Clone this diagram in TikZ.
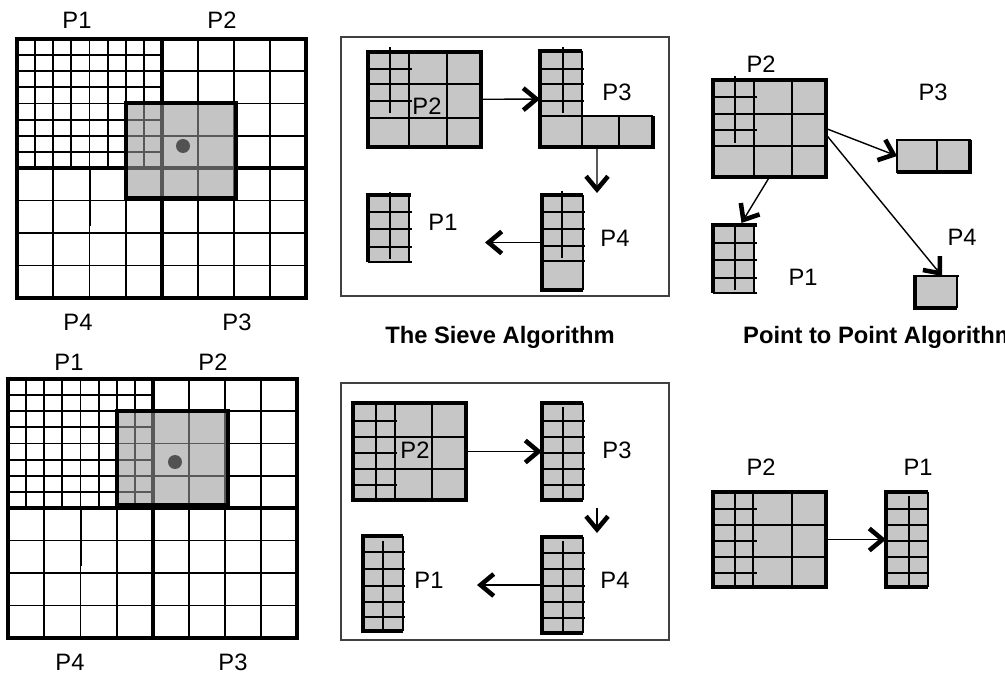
\documentclass[tikz,border=0pt]{standalone}
\usepackage{fontspec}
\setmainfont{Liberation Sans}
\usetikzlibrary{arrows.meta,fit,calc}
\tikzstyle{gridL}=[line width=1.05pt]
\tikzstyle{thickL}=[line width=2.5pt]
\tikzstyle{frameL}=[line width=0.8pt, black!75]
\tikzstyle{blk}=[rectangle, fill=gray!45, inner sep=0pt, outer sep=0pt]
\tikzstyle{ghost}=[fill=gray!80, fill opacity=0.58]
\tikzstyle{lbl}=[font=\fontsize{13.5}{15}\selectfont]
\tikzstyle{algoTitle}=[font=\bfseries\fontsize{13.5}{16}\selectfont]
\tikzstyle{flow}=[line width=0.8pt, -{Straight Barb[length=7.5pt, width=12.5pt, line width=2.6pt]}]

\begin{document}
\begin{tikzpicture}[x=0.02cm, y=-0.02cm]
  \useasboundingbox (0,0) rectangle (1005,675);
  %%%%%%%%%%%% Grids (top and bottom)
  \foreach \ox/\oy in {17/39, 8/379} {
    \begin{scope}[shift={(\ox,\oy)}]
      \foreach \i in {1,...,7}
        \draw[gridL] (\i*18.125,0) -- (\i*18.125,129) (0,\i*16.125) -- (145,\i*16.125);
      \foreach \i in {1,2,3}
        \draw[gridL] (145+\i*36,0) -- (145+\i*36,259) (\i*36.25,129) -- (\i*36.25,259)
                     (145,\i*32.25) -- (289,\i*32.25) (0,129+\i*32.5) -- (289,129+\i*32.5);
      \draw[line width=1.5pt] (73,129) -- (73,187);
      \draw[thickL] (0,0) rectangle (289,259) (145,0) -- (145,259) (0,129) -- (289,129);
    \end{scope}
  }
  \fill[ghost] (126,103) rectangle (236,198);
  \draw[thickL] (126,103) rectangle (236,198);
  \fill[black!68] (183,146) circle (0.14cm);
  \fill[ghost] (117,411) rectangle (228,505);
  \draw[thickL] (117,411) rectangle (228,505);
  \fill[black!68] (175,462) circle (0.14cm);
  \node (g1) [lbl] at (77,20) {P1};
  \node (g2) [lbl] at (222,20) {P2};
  \node (g4) [lbl] at (78,322) {P4};
  \node (g3) [lbl] at (237,322) {P3};
  \node (h1) [lbl] at (69,362) {P1};
  \node (h2) [lbl] at (213,362) {P2};
  \node (h4) [lbl] at (70,662) {P4};
  \node (h3) [lbl] at (233,662) {P3};
  %%%%%%%%%%%% Sieve (top)
  \draw[frameL] (341,37) rectangle (669,296);
  \node (s2) [blk, fit={(368,52) (481,147)}] {};
  \draw[gridL] (390,47) -- (390,113) (409,52) -- (409,147) (447,52) -- (447,147)
               (368,84) -- (481,84) (368,118) -- (481,118) (368,69) -- (412,69) (368,101) -- (412,101);
  \draw[thickL] (s2.north west) rectangle (s2.south east);
  \node (s3) [blk, fit={(540,51) (582,147)}] {};
  \node (s3b) [blk, fit={(582,116) (653,147)}] {};
  \draw[gridL] (563,47) -- (563,113) (540,69) -- (584,69) (540,84) -- (584,84) (540,101) -- (584,101)
               (540,116) -- (653,116) (582,51) -- (582,147) (619,116) -- (619,147);
  \draw[thickL] (582,51) -- (540,51) -- (540,147) -- (653,147) -- (653,116);
  \node (s4) [blk, fit={(542,195) (583,290)}] {};
  \draw[gridL] (562,191) -- (562,258) (583,195) -- (583,290);
  \foreach \y in {212,229,246,261}
    \draw[gridL] (542,\y) -- (585,\y);
  \draw[thickL] (583,195) -- (542,195) -- (542,290) -- (583,290);
  \node (s1) [blk, fit={(368,195) (409,262)}] {};
  \draw[gridL] (390,192) -- (390,259) (409,195) -- (409,262);
  \foreach \y in {212,229,247,262}
    \draw[gridL] (368,\y) -- (412,\y);
  \draw[thickL] (368,262) -- (368,195) -- (411,195);
  \node (sL2) [lbl] at (427,106) {P2};
  \node (sL3) [lbl] at (617,92) {P3};
  \node (sL4) [lbl] at (615,238) {P4};
  \node (sL1) [lbl] at (443,222) {P1};
  \coordinate (sE1) at (485,243);
  \draw[flow] (s2) -- (s3);
  \draw[flow] ($(s3b.south west)+(15,0)$) -- ($(s4.north east)+(14,-2)$);
  \draw[flow] (s4.west) -- (s4.west -| sE1);
  \node (t1) [algoTitle] at (500,337) {The Sieve Algorithm};
  %%%%%%%%%%%% Point to point (top)
  \node (p2) [blk, fit={(713,80) (826,177)}] {};
  \draw[gridL] (735,76) -- (735,143) (754,80) -- (754,177) (792,80) -- (792,177)
               (713,114) -- (826,114) (713,146) -- (826,146) (713,97) -- (757,97) (713,130) -- (757,130);
  \draw[thickL] (p2.north west) rectangle (p2.south east);
  \node (p3) [blk, fit={(897,140) (970,172)}] {};
  \draw[gridL] (p3.north west) rectangle (p3.south east) (937,140) -- (937,172);
  \draw[thickL] (897,172) -- (970,172) -- (970,140);
  \node (p4) [blk, fit={(915,276) (957,308)}] {};
  \draw[gridL] (957,276) -- (957,308);
  \draw[line width=1.6pt] (915,276) -- (959,276);
  \draw[thickL] (957,308) -- (915,308) -- (915,275);
  \node (p1) [blk, fit={(713,225) (754,293)}] {};
  \draw[gridL] (735,223) -- (735,290) (754,225) -- (754,293);
  \foreach \y in {243,260,278,293}
    \draw[gridL] (713,\y) -- (757,\y);
  \draw[thickL] (713,293) -- (713,225) -- (757,225);
  \node (pL2) [lbl] at (761,64) {P2};
  \node (pL3) [lbl] at (933,92) {P3};
  \node (pL4) [lbl] at (962,237) {P4};
  \node (pL1) [lbl] at (803,277) {P1};
  \draw[flow] (p2.east) -- (p3.west);
  \draw[flow] ($(p2.east)+(0,6)$) -- ($(p4.north)+(6,0)$);
  \draw[flow] (p2.south) -- ($(p1.north)+(8,-2)$);
  \node (t2) [algoTitle, anchor=west] at (737,337) {Point to Point Algorithm};
  %%%%%%%%%%%% Sieve (bottom)
  \draw[frameL] (341,383) rectangle (669,640);
  \node (b2) [blk, fit={(353,403) (466,500)}] {};
  \draw[gridL] (376,403) -- (376,500) (395,403) -- (395,500) (432,403) -- (432,500)
               (353,437) -- (466,437) (353,469) -- (466,469)
               (353,421) -- (397,421) (353,453) -- (397,453) (353,485) -- (397,485);
  \draw[thickL] (b2.north west) rectangle (b2.south east);
  \node (b3) [blk, fit={(542,403) (583,500)}] {};
  \draw[gridL] (563,407) -- (563,500) (583,403) -- (583,500);
  \foreach \y in {421,437,453,469,485}
    \draw[gridL] (542,\y) -- (585,\y);
  \draw[thickL] (583,403) -- (542,403) -- (542,500) -- (583,500);
  \node (b4) [blk, fit={(542,537) (583,633)}] {};
  \draw[gridL] (563,541) -- (563,633) (583,537) -- (583,633);
  \foreach \y in {553,569,586,602,618}
    \draw[gridL] (542,\y) -- (585,\y);
  \draw[thickL] (583,537) -- (542,537) -- (542,633) -- (583,633);
  \node (b1) [blk, fit={(363,536) (403,631)}] {};
  \draw[gridL] (383,541) -- (383,631) (403,536) -- (403,631);
  \foreach \y in {552,569,586,602,617}
    \draw[gridL] (363,\y) -- (405,\y);
  \draw[thickL] (403,536) -- (363,536) -- (363,631) -- (403,631);
  \node (bL2) [lbl] at (415,450) {P2};
  \node (bL3) [lbl] at (617,450) {P3};
  \node (bL4) [lbl] at (615,580) {P4};
  \node (bL1) [lbl] at (429,580) {P1};
  \coordinate (bE1) at (477,585);
  \draw[flow] (b2) -- (b3);
  \draw[flow] ($(b3.south east)+(14,8)$) -- ($(b4.north east)+(14,-4)$);
  \draw[flow] (b4.west) -- (b4.west -| bE1);
  %%%%%%%%%%%% Point to point (bottom)
  \node (q2) [blk, fit={(713,492) (826,587)}] {};
  \draw[gridL] (735,492) -- (735,587) (753,492) -- (753,587) (792,492) -- (792,587)
               (713,525) -- (826,525) (713,557) -- (826,557)
               (713,509) -- (757,509) (713,541) -- (757,541) (713,573) -- (757,573);
  \draw[thickL] (q2.north west) rectangle (q2.south east);
  \node (q1) [blk, fit={(886,492) (928,587)}] {};
  \draw[gridL] (909,496) -- (909,587) (928,492) -- (928,587);
  \foreach \y in {509,525,541,557,573}
    \draw[gridL] (886,\y) -- (929,\y);
  \draw[thickL] (928,492) -- (886,492) -- (886,587) -- (928,587);
  \node (qL2) [lbl] at (761,467) {P2};
  \node (qL1) [lbl] at (918,467) {P1};
  \draw[flow] (q2) -- (q1);
\end{tikzpicture}
\end{document}
